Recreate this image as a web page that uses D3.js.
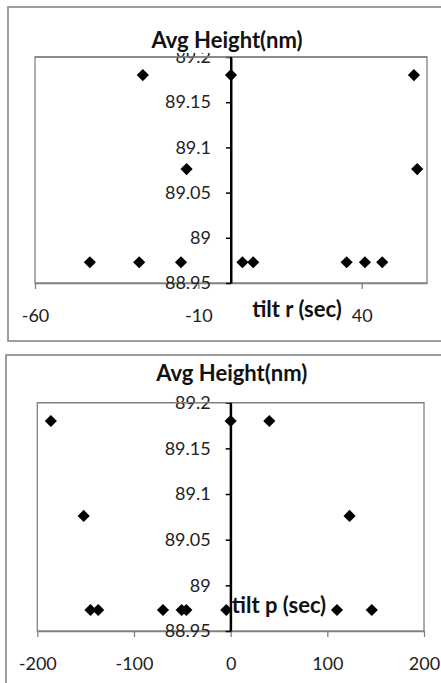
<!DOCTYPE html>
<html><head><meta charset="utf-8">
<script src="https://cdn.jsdelivr.net/npm/d3@7"></script>
<style>body{margin:0;background:#fff}svg{display:block}</style>
</head><body>
<script>
// ---- Data ----
const chartTitle = "Avg Height(nm)";
const yTicks = [88.95, 89, 89.05, 89.1, 89.15, 89.2];

const rTitle = "tilt r (sec)";
const rXTicks = [-60, -10, 40];
const rX = [-27, 0, 56, -13.6, 57, -43.2, -28.1, -15.3, 3.5, 6.8, 35.4, 41.0, 46.3];
const rY = [89.18, 89.18, 89.18, 89.076, 89.076, 88.973, 88.973, 88.973, 88.973, 88.973, 88.973, 88.973, 88.973];

const pTitle = "tilt p (sec)";
const pXTicks = [-200, -100, 0, 100, 200];
const pX = [-186, 0, 40, -152, 123, -145, -137, -70, -50.7, -45.8, -4.5, 110, 146];
const pY = [89.18, 89.18, 89.18, 89.076, 89.076, 88.973, 88.973, 88.973, 88.973, 88.973, 88.973, 88.973, 88.973];

const W = 441, H = 683;
const svg = d3.select("body").append("svg").attr("width", W).attr("height", H);
const FONT = "Lato, 'Open Sans', sans-serif";

function drawChart(cfg) {
  const g = svg.append("g");
  // outer frame
  g.append("rect").attr("x", cfg.frame[0]).attr("y", cfg.frame[1])
    .attr("width", cfg.frame[2]).attr("height", cfg.frame[3])
    .attr("fill", "#fff").attr("stroke", "#878787").attr("stroke-width", 1.6);

  const x = d3.scaleLinear().domain(cfg.xDomain).range([cfg.left, cfg.right]);
  const y = d3.scaleLinear().domain([yTicks[0], yTicks[yTicks.length - 1]]).range([cfg.bottom, cfg.top]);

  // plot area border
  g.append("rect").attr("x", cfg.left).attr("y", cfg.top)
    .attr("width", cfg.right - cfg.left).attr("height", cfg.bottom - cfg.top)
    .attr("fill", "none").attr("stroke", "#808080").attr("stroke-width", 1.3);

  // x axis (bottom)
  const xa = g.append("g").attr("transform", `translate(0,${cfg.bottom})`)
    .call(d3.axisBottom(x).tickValues(cfg.xTicks).tickSize(6).tickSizeOuter(0).tickPadding(cfg.xPad).tickFormat(d => String(d)));
  xa.select(".domain").attr("stroke", "#808080").attr("stroke-width", 1.3);
  xa.selectAll(".tick line").attr("stroke", "#808080").attr("stroke-width", 1.3);
  xa.selectAll(".tick text").attr("font-family", FONT).attr("font-size", 18).attr("fill", "#222");

  // y axis at x = 0
  const ya = g.append("g").attr("transform", `translate(${x(0)},0)`)
    .call(d3.axisLeft(y).tickValues(yTicks).tickSize(5).tickSizeOuter(0).tickPadding(15).tickFormat(d => String(+d.toFixed(2))));
  ya.select(".domain").attr("stroke", "#000").attr("stroke-width", 2);
  ya.selectAll(".tick line").attr("stroke", "#000").attr("stroke-width", 1.5);
  ya.selectAll(".tick text").attr("font-family", FONT).attr("font-size", 18).attr("fill", "#222");

  // title with white box
  const tbox = g.append("rect").attr("fill", "#fff");
  const t = g.append("text").attr("x", cfg.titleX).attr("y", cfg.titleY)
    .attr("text-anchor", "middle").attr("font-family", FONT).attr("font-weight", "bold")
    .attr("font-size", 22).attr("fill", "#111").text(chartTitle);
  const bb = t.node().getBBox();
  tbox.attr("x", bb.x).attr("y", bb.y).attr("width", bb.width).attr("height", bb.height);
  // redraw plot top border over the title box
  g.append("line").attr("x1", cfg.left).attr("x2", cfg.right).attr("y1", cfg.top).attr("y2", cfg.top)
    .attr("stroke", "#808080").attr("stroke-width", 1.3);
  g.append("line").attr("x1", x(0)).attr("x2", x(0)).attr("y1", cfg.top).attr("y2", cfg.bottom)
    .attr("stroke", "#000").attr("stroke-width", 2);

  // markers
  const sym = d3.symbol().type(d3.symbolSquare).size(74);
  g.append("g").selectAll("path").data(cfg.xs.map((v, i) => [v, cfg.ys[i]])).join("path")
    .attr("d", sym)
    .attr("transform", d => `translate(${x(d[0])},${y(d[1])}) rotate(45)`)
    .attr("fill", "#000");

  // x axis title
  g.append("text").attr("x", cfg.xtX).attr("y", cfg.xtY).attr("text-anchor", "middle")
    .attr("font-family", FONT).attr("font-weight", "bold").attr("font-size", 22)
    .attr("fill", "#111").text(cfg.xTitle);
}

drawChart({
  frame: [8, 7, 445, 334],
  left: 35, right: 427, top: 57, bottom: 283,
  xDomain: [-60, 60], xTicks: rXTicks, xPad: 20,
  xs: rX, ys: rY,
  titleX: 227, titleY: 48,
  xTitle: rTitle, xtX: 297, xtY: 317
});

drawChart({
  frame: [6, 355, 445, 340],
  left: 37.3, right: 424, top: 402.7, bottom: 631,
  xDomain: [-200, 200], xTicks: pXTicks, xPad: 20,
  xs: pX, ys: pY,
  titleX: 231.7, titleY: 381,
  xTitle: pTitle, xtX: 279, xtY: 613
});
</script>
</body></html>
